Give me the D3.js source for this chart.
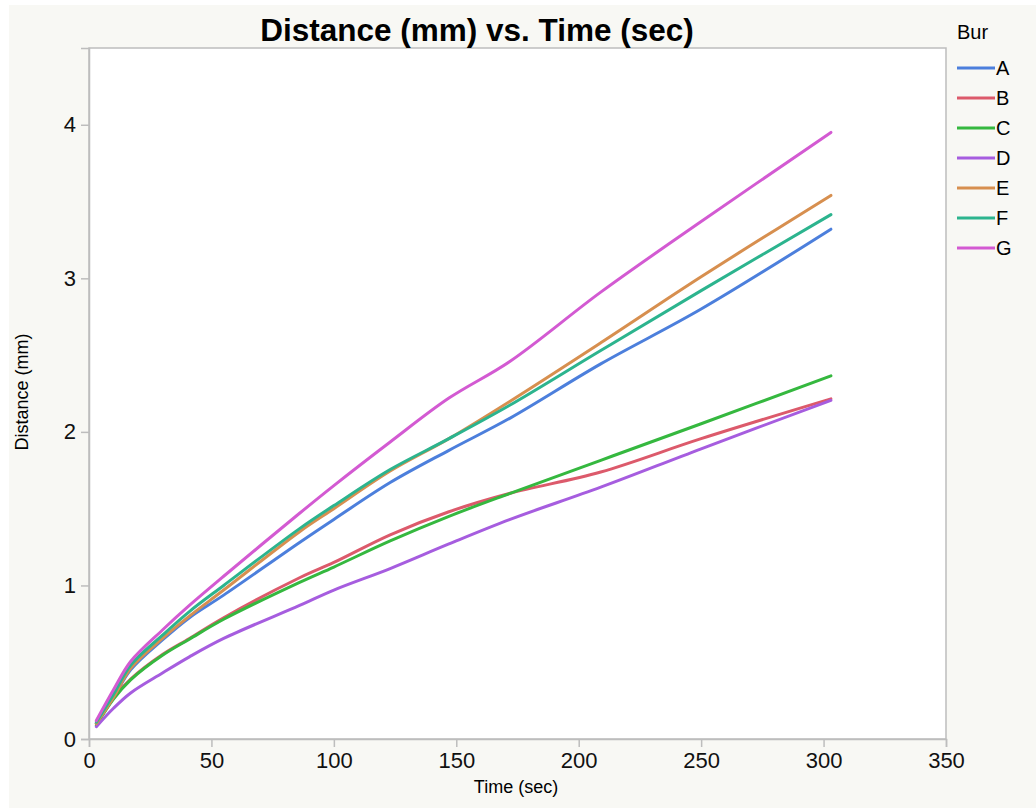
<!DOCTYPE html>
<html>
<head>
<meta charset="utf-8">
<script src="https://cdn.jsdelivr.net/npm/d3@7"></script>
<style>
  body { margin: 0; background: #ffffff; }
  svg { display: block; font-family: "Liberation Sans", Arial, Helvetica, sans-serif; }
</style>
</head>
<body>
<div id="chart"></div>
<script>
// time points (sec) the curves were read at
var times = [3, 10, 17, 30, 41, 55, 86, 100, 123, 147, 172, 209, 250, 303];

// distance (mm) per bur
var burA = [0.10, 0.27, 0.45, 0.645, 0.79, 0.937, 1.28, 1.43, 1.67, 1.88, 2.09, 2.443, 2.80, 3.32];
var burB = [0.10, 0.27, 0.39, 0.55, 0.655, 0.79, 1.05, 1.15, 1.33, 1.48, 1.60, 1.739, 1.956, 2.215];
var burC = [0.09, 0.26, 0.385, 0.545, 0.65, 0.78, 1.02, 1.12, 1.29, 1.45, 1.60, 1.815, 2.053, 2.365];
var burD = [0.08, 0.20, 0.30, 0.43, 0.535, 0.655, 0.87, 0.97, 1.11, 1.27, 1.43, 1.64, 1.89, 2.205];
var burE = [0.10, 0.27, 0.46, 0.655, 0.80, 0.97, 1.35, 1.50, 1.745, 1.956, 2.20, 2.58, 3.01, 3.54];
var burF = [0.11, 0.29, 0.48, 0.676, 0.83, 1.00, 1.37, 1.52, 1.755, 1.956, 2.175, 2.53, 2.92, 3.415];
var burG = [0.12, 0.32, 0.505, 0.71, 0.87, 1.06, 1.47, 1.65, 1.934, 2.22, 2.46, 2.91, 3.37, 3.95];

var burs = ["A", "B", "C", "D", "E", "F", "G"];
var colors = ["#4c7fdc", "#dc5a6b", "#35b83f", "#a65ddf", "#d78f4f", "#2cb48e", "#d35ad2"];

var xTicks = [0, 50, 100, 150, 200, 250, 300, 350];
var yTicks = [0, 1, 2, 3, 4];

var series = [burA, burB, burC, burD, burE, burF, burG].map(function(vals, i) {
  return {
    name: burs[i],
    points: vals.map(function(v, j) { return {t: times[j], d: v}; })
  };
});

var W = 1036, H = 808;
var margin = {top: 48, left: 89};
var width = 946 - margin.left,
    height = 739 - margin.top;

var svg = d3.select("#chart")
  .append("svg")
    .attr("width", W)
    .attr("height", H);

// panel background
svg.append("rect")
  .attr("x", 9).attr("y", 5)
  .attr("width", W - 9).attr("height", H - 5)
  .attr("fill", "#f8f8f4");

var g = svg.append("g")
  .attr("transform", "translate(" + margin.left + "," + margin.top + ")");

var x = d3.scaleLinear().domain([0, 350]).range([0, width]);
var y = d3.scaleLinear().domain([0, 4.5]).range([height, 0]);

g.append("rect")
  .attr("width", width).attr("height", height)
  .attr("fill", "#ffffff")
  .attr("stroke", "#bdbdbd")
  .attr("stroke-width", 1.5);

// axes
var xAxis = g.append("g")
  .attr("transform", "translate(0," + height + ")")
  .call(d3.axisBottom(x).tickValues(xTicks).tickSize(8).tickPadding(5));
var yAxis = g.append("g")
  .call(d3.axisLeft(y).tickValues(yTicks).tickFormat(d3.format("d")).tickSize(8).tickPadding(5));

[xAxis, yAxis].forEach(function(a) {
  a.select(".domain").attr("stroke", "#bdbdbd").attr("stroke-width", 1.5);
  a.selectAll(".tick line").attr("stroke", "#bdbdbd").attr("stroke-width", 1.5);
  a.selectAll(".tick text")
    .attr("font-size", 22)
    .attr("fill", "#111")
    .attr("font-family", "Liberation Sans, Arial, sans-serif");
});

// lines
var line = d3.line()
  .x(function(d) { return x(d.t); })
  .y(function(d) { return y(d.d); })
  .curve(d3.curveCatmullRom.alpha(0.5));

g.selectAll(".bur")
  .data(series)
  .enter()
  .append("path")
    .attr("class", "bur")
    .attr("fill", "none")
    .attr("stroke", function(d, i) { return colors[i]; })
    .attr("stroke-width", 3)
    .attr("stroke-linecap", "round")
    .attr("d", function(d) { return line(d.points); });

// title and axis labels
svg.append("text")
  .attr("x", 477).attr("y", 41)
  .attr("text-anchor", "middle")
  .attr("font-size", 31.5)
  .attr("font-weight", "bold")
  .text("Distance (mm) vs. Time (sec)");

svg.append("text")
  .attr("x", 516).attr("y", 793)
  .attr("text-anchor", "middle")
  .attr("font-size", 18)
  .text("Time (sec)");

svg.append("text")
  .attr("transform", "translate(28,392) rotate(-90)")
  .attr("text-anchor", "middle")
  .attr("font-size", 18)
  .text("Distance (mm)");

// legend
var legend = svg.append("g").attr("transform", "translate(957,0)");
legend.append("text")
  .attr("x", 0).attr("y", 39)
  .attr("font-size", 20)
  .text("Bur");

var item = legend.selectAll(".item")
  .data(burs)
  .enter()
  .append("g")
    .attr("class", "item")
    .attr("transform", function(d, i) { return "translate(0," + (68 + i * 30) + ")"; });
item.append("line")
  .attr("x1", 0).attr("x2", 38)
  .attr("stroke", function(d, i) { return colors[i]; })
  .attr("stroke-width", 3);
item.append("text")
  .attr("x", 39).attr("y", 0)
  .attr("dy", "0.36em")
  .attr("font-size", 20)
  .text(function(d) { return d; });
</script>
</body>
</html>
